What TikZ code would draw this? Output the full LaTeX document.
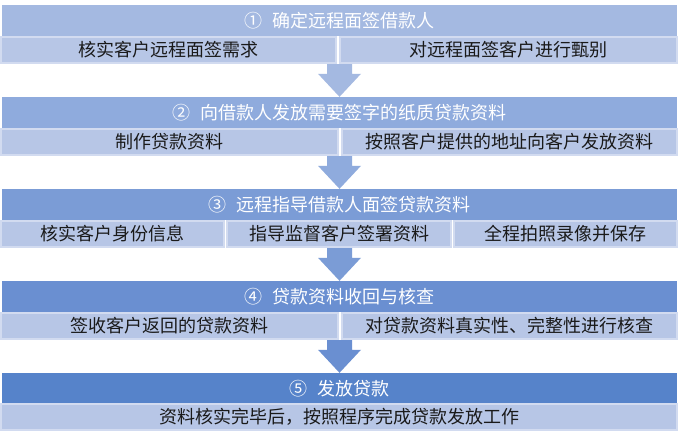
\documentclass[tikz,border=0pt]{standalone}
\usepackage{fontspec}
\setmainfont{Noto Sans CJK SC}
\usetikzlibrary{calc}

\definecolor{stepA}{HTML}{A4B9E1}
\definecolor{stepB}{HTML}{8FABDD}
\definecolor{stepC}{HTML}{7B9CD6}
\definecolor{stepD}{HTML}{6A8FD1}
\definecolor{stepE}{HTML}{5683CA}
\definecolor{subfill}{HTML}{B7C6E6}
\definecolor{subline}{HTML}{D2DBF0}
\definecolor{subtext}{HTML}{1A1A1A}

\begin{document}
\begin{tikzpicture}[x=1pt,y=-1pt,
    header/.style={rectangle, inner sep=0pt, minimum height=31pt, minimum width=675pt,
        text=white, font=\fontsize{18}{20}\selectfont},
    detail/.style={rectangle, inner sep=0pt, minimum height=26pt, draw=subline,
        line width=2pt, fill=subfill, text=subtext, font=\fontsize{18}{20}\selectfont},
    flow/.style={fill=#1, draw=none, to path={let \p1=(\tikztostart), \p2=(\tikztotarget) in
        (\x1-12.5pt,\y1) -- (\x1+12.5pt,\y1) -- (\x1+12.5pt,\y2+23pt) -- (\x1+21.5pt,\y2+23pt)
        -- (\x2,\y2) -- (\x1-21.5pt,\y2+23pt) -- (\x1-12.5pt,\y2+23pt) -- cycle}}]

    \useasboundingbox[fill=white] (0,0) rectangle (678,442);

    % Step 1
    \node[header, fill=stepA] (h1) at (339.5, 20.5) {①\hspace{10pt}确定远程面签借款人};
    \node[detail, minimum width=335pt] (d1a) at (168.5, 50) {核实客户远程面签需求};
    \node[detail, minimum width=337pt] (d1b) at (508.5, 50) {对远程面签客户进行甄别};

    % Step 2
    \node[header, fill=stepB] (h2) at (339.5, 112.5) {②\hspace{10pt}向借款人发放需要签字的纸质贷款资料};
    \node[detail, minimum width=337pt] (d2a) at (169.5, 142) {制作贷款资料};
    \node[detail, minimum width=335pt] (d2b) at (509.5, 142) {按照客户提供的地址向客户发放资料};

    % Step 3
    \node[header, fill=stepC] (h3) at (339.5, 204.5) {③\hspace{10pt}远程指导借款人面签贷款资料};
    \node[detail, minimum width=223pt] (d3a) at (112.5, 234) {核实客户身份信息};
    \node[detail, minimum width=224pt] (d3b) at (339, 234) {指导监督客户签署资料};
    \node[detail, minimum width=223pt] (d3c) at (565.5, 234) {全程拍照录像并保存};

    % Step 4
    \node[header, fill=stepD] (h4) at (339.5, 296.5) {④\hspace{10pt}贷款资料收回与核查};
    \node[detail, minimum width=337pt] (d4a) at (169.5, 326) {签收客户返回的贷款资料};
    \node[detail, minimum width=335pt] (d4b) at (509.5, 326) {对贷款资料真实性、完整性进行核查};

    % Step 5
    \node[header, fill=stepE] (h5) at (339.5, 388.5) {⑤\hspace{10pt}发放贷款};
    \node[detail, minimum width=676pt] (d5) at (339, 417) {资料核实完毕后，按照程序完成贷款发放工作};

    % arrows
    \fill[flow=stepA] (d1a.south -| h2.north) to (h2.north);
    \fill[flow=stepB] (d2a.south -| h3.north) to (h3.north);
    \fill[flow=stepC] (d3b.south -| h4.north) to (h4.north);
    \fill[flow=stepD] (d4a.south -| h5.north) to (h5.north);
\end{tikzpicture}
\end{document}
